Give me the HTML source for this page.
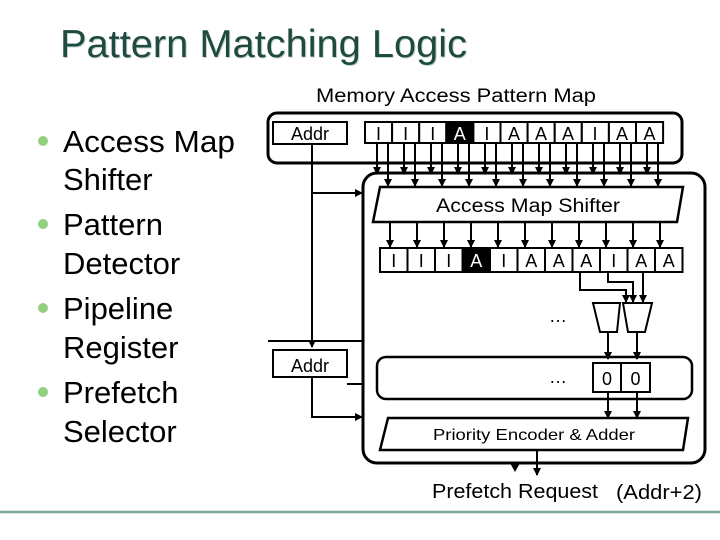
<!DOCTYPE html>
<html><head><meta charset="utf-8"><style>
html,body{margin:0;padding:0;background:#fff;}
svg{display:block;}
</style></head><body>
<svg width="720" height="540" viewBox="0 0 720 540" xmlns="http://www.w3.org/2000/svg" font-family="Liberation Sans, sans-serif">
<defs>
<marker id="ah" markerWidth="8" markerHeight="8" refX="7" refY="4" orient="auto" markerUnits="userSpaceOnUse">
<path d="M0,0 L8,4 L0,8 z" fill="#000"/></marker>
</defs>
<!-- title -->
<text x="61" y="58" font-size="39" fill="#c8d4d0" textLength="407" lengthAdjust="spacingAndGlyphs">Pattern Matching Logic</text>
<text x="60" y="57" font-size="39" fill="#1f4a40" textLength="407" lengthAdjust="spacingAndGlyphs">Pattern Matching Logic</text>
<line x1="0" y1="512" x2="720" y2="512" stroke="#7aa89a" stroke-width="2.5"/>
<!-- bullets -->
<g font-size="31" fill="#000">
<circle cx="43" cy="141" r="5" fill="#92d07f"/>
<text x="63" y="152" textLength="172" lengthAdjust="spacingAndGlyphs">Access Map</text>
<text x="63" y="190">Shifter</text>
<circle cx="43" cy="224" r="5" fill="#92d07f"/>
<text x="63" y="235">Pattern</text>
<text x="63" y="274">Detector</text>
<circle cx="43" cy="308" r="5" fill="#92d07f"/>
<text x="63" y="319">Pipeline</text>
<text x="63" y="358">Register</text>
<circle cx="43" cy="392" r="5" fill="#92d07f"/>
<text x="63" y="403">Prefetch</text>
<text x="63" y="442">Selector</text>
</g>
<text x="316" y="102" font-size="19" textLength="280" lengthAdjust="spacingAndGlyphs">Memory Access Pattern Map</text>
<g fill="none" stroke="#000" stroke-width="3">
<rect x="268" y="113" width="414" height="50" rx="9"/>
<rect x="363" y="173" width="342" height="290" rx="14"/>
</g>
<g stroke="#000" stroke-width="2" fill="#fff">
<rect x="273" y="122" width="74" height="22"/>
<rect x="273" y="350" width="74" height="27"/>
</g>
<text x="310" y="140" font-size="18" text-anchor="middle">Addr</text>
<text x="310" y="372" font-size="18" text-anchor="middle">Addr</text>
<!-- top cells -->
<g stroke="#000" stroke-width="2" fill="#fff">
<rect x="365" y="122" width="27.1" height="21"/><rect x="392.1" y="122" width="27.1" height="21"/><rect x="419.2" y="122" width="27.1" height="21"/><rect x="446.3" y="122" width="27.1" height="21" fill="#000"/><rect x="473.4" y="122" width="27.1" height="21"/><rect x="500.5" y="122" width="27.1" height="21"/><rect x="527.6" y="122" width="27.1" height="21"/><rect x="554.7" y="122" width="27.1" height="21"/><rect x="581.8" y="122" width="27.1" height="21"/><rect x="608.9" y="122" width="27.1" height="21"/><rect x="636" y="122" width="27.1" height="21"/>
<rect x="380" y="248" width="27.5" height="24"/><rect x="407.5" y="248" width="27.5" height="24"/><rect x="435" y="248" width="27.5" height="24"/><rect x="462.5" y="248" width="27.5" height="24" fill="#000"/><rect x="490" y="248" width="27.5" height="24"/><rect x="517.5" y="248" width="27.5" height="24"/><rect x="545" y="248" width="27.5" height="24"/><rect x="572.5" y="248" width="27.5" height="24"/><rect x="600" y="248" width="27.5" height="24"/><rect x="627.5" y="248" width="27.5" height="24"/><rect x="655" y="248" width="27.5" height="24"/>
</g>
<g font-size="18" text-anchor="middle">
<text x="378.5" y="140">I</text><text x="405.6" y="140">I</text><text x="432.7" y="140">I</text><text x="459.8" y="140" fill="#fff">A</text><text x="486.9" y="140">I</text><text x="514" y="140">A</text><text x="541" y="140">A</text><text x="568" y="140">A</text><text x="595" y="140">I</text><text x="622" y="140">A</text><text x="649.5" y="140">A</text>
<text x="393.7" y="267">I</text><text x="421.2" y="267">I</text><text x="448.7" y="267">I</text><text x="476.2" y="267" fill="#fff">A</text><text x="503.7" y="267">I</text><text x="531.2" y="267">A</text><text x="558.7" y="267">A</text><text x="586.2" y="267">A</text><text x="613.7" y="267">I</text><text x="641.2" y="267">A</text><text x="668.7" y="267">A</text>
</g>
<!-- arrows -->
<g stroke="#000" stroke-width="2" marker-end="url(#ah)">
<line x1="377" y1="143" x2="377" y2="174"/><line x1="404" y1="143" x2="404" y2="174"/><line x1="431" y1="143" x2="431" y2="174"/><line x1="458" y1="143" x2="458" y2="174"/><line x1="485" y1="143" x2="485" y2="174"/><line x1="512" y1="143" x2="512" y2="174"/><line x1="539" y1="143" x2="539" y2="174"/><line x1="566" y1="143" x2="566" y2="174"/><line x1="593" y1="143" x2="593" y2="174"/><line x1="620" y1="143" x2="620" y2="174"/><line x1="647" y1="143" x2="647" y2="174"/>
<line x1="388" y1="143" x2="388" y2="186"/><line x1="415" y1="143" x2="415" y2="186"/><line x1="442" y1="143" x2="442" y2="186"/><line x1="469" y1="143" x2="469" y2="186"/><line x1="496" y1="143" x2="496" y2="186"/><line x1="523" y1="143" x2="523" y2="186"/><line x1="550" y1="143" x2="550" y2="186"/><line x1="577" y1="143" x2="577" y2="186"/><line x1="604" y1="143" x2="604" y2="186"/><line x1="631" y1="143" x2="631" y2="186"/><line x1="658" y1="143" x2="658" y2="186"/>
<line x1="390" y1="222" x2="390" y2="247"/><line x1="417" y1="222" x2="417" y2="247"/><line x1="444" y1="222" x2="444" y2="247"/><line x1="471" y1="222" x2="471" y2="247"/><line x1="498" y1="222" x2="498" y2="247"/><line x1="525" y1="222" x2="525" y2="247"/><line x1="552" y1="222" x2="552" y2="247"/><line x1="579" y1="222" x2="579" y2="247"/><line x1="606" y1="222" x2="606" y2="247"/><line x1="633" y1="222" x2="633" y2="247"/><line x1="660" y1="222" x2="660" y2="247"/>
<polyline fill="none" points="312,144 312,347"/>
<polyline fill="none" points="312,193 362,193"/>
<polyline fill="none" points="312,377 312,417 362,417"/>
<line x1="608" y1="332" x2="608" y2="359"/>
<line x1="637" y1="332" x2="637" y2="359"/>
<line x1="608" y1="392" x2="608" y2="418"/>
<line x1="637" y1="392" x2="637" y2="418"/>
<line x1="537" y1="450" x2="537" y2="475"/>
<polyline fill="none" points="580,272 580,290 626,290 626,302"/>
<polyline fill="none" points="608,272 608,282 633,282 633,302"/>
<polyline fill="none" points="643,272 643,302"/>
</g>
<g stroke="#000" stroke-width="2" fill="none">
<line x1="268" y1="341" x2="363" y2="341"/>
<line x1="347" y1="384" x2="363" y2="384"/>
</g>
<path d="M510,463 L520,463 L515,472 z" fill="#000"/>
<!-- shifter -->
<polygon points="380,187 683,187 677,222 373,222" fill="#fff" stroke="#000" stroke-width="2.5"/>
<text x="528" y="212" font-size="19" text-anchor="middle" textLength="184" lengthAdjust="spacingAndGlyphs">Access Map Shifter</text>
<!-- muxes -->
<polygon points="593,303 620,303 617,332 600,332" fill="#fff" stroke="#000" stroke-width="2"/>
<polygon points="623,303 652,303 645,332 628,332" fill="#fff" stroke="#000" stroke-width="2"/>
<text x="558" y="322" font-size="18" text-anchor="middle">…</text>
<!-- register -->
<rect x="377" y="357" width="315" height="42" rx="9" fill="none" stroke="#000" stroke-width="2.5"/>
<rect x="593" y="363" width="28" height="29" fill="#fff" stroke="#000" stroke-width="2"/>
<rect x="621" y="363" width="29" height="29" fill="#fff" stroke="#000" stroke-width="2"/>
<text x="607" y="385" font-size="18" text-anchor="middle">0</text>
<text x="635.5" y="385" font-size="18" text-anchor="middle">0</text>
<text x="558" y="383" font-size="18" text-anchor="middle">…</text>
<!-- priority -->
<polygon points="388,418 688,418 683,450 380,450" fill="#fff" stroke="#000" stroke-width="2.5"/>
<text x="534" y="440" font-size="16" text-anchor="middle" textLength="202" lengthAdjust="spacingAndGlyphs">Priority Encoder &amp; Adder</text>
<text x="432" y="498" font-size="20" textLength="166" lengthAdjust="spacingAndGlyphs">Prefetch Request</text>
<text x="616" y="499" font-size="20" textLength="86" lengthAdjust="spacingAndGlyphs">(Addr+2)</text>
</svg>
</body></html>
